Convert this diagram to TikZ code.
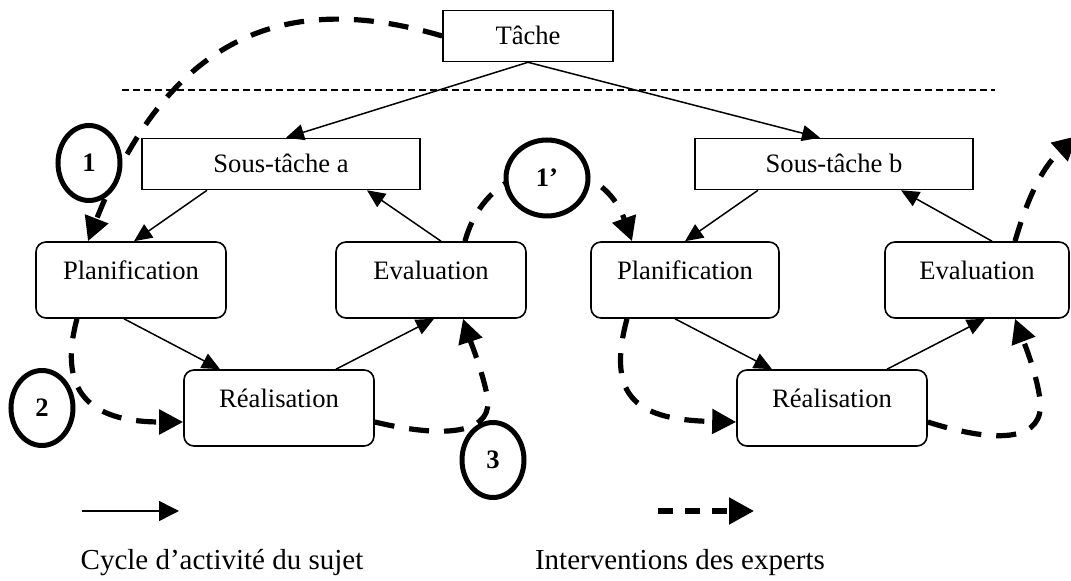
\documentclass[tikz,border=0pt]{standalone}
\usepackage{fontspec}
\setmainfont{Liberation Serif}
\usetikzlibrary{arrows.meta,calc,shapes.geometric}

\tikzset{
  task node/.style={draw,line width=0.8pt,minimum height=25.5pt,
    text height=8.8pt,text depth=0pt},
  phase node/.style={draw,rounded corners=5pt,line width=0.8pt,
    minimum width=95pt,minimum height=38pt,text height=9pt,text depth=9pt},
  num node/.style={draw,ellipse,fill=white,line width=2.5pt,inner sep=0pt,
    minimum width=31pt,minimum height=37.5pt,font=\fontsize{13.3}{16}\selectfont\bfseries},
  cycle arrow/.style={line width=0.75pt,-{Triangle[length=9pt,width=8pt]}},
  expert/.style={line width=2.6pt,dash pattern=on 10pt off 7.5pt,
    -{Triangle[length=12pt,width=12pt]}},
  sep line/.style={line width=0.7pt,dash pattern=on 3.5pt off 2pt}
}

\begin{document}
\begin{tikzpicture}[x=0.5pt,y=-0.5pt,font=\fontsize{13.3}{16}\selectfont]
\useasboundingbox (0,0) rectangle (1071,581);

% task and sub-tasks
\node[task node,minimum width=85pt] (tache) at (528,36) {Tâche};
\node[task node,minimum width=139pt] (sta) at (281,164) {Sous-tâche a};
\node[task node,minimum width=139pt] (stb) at (834,164) {Sous-tâche b};

\coordinate (sepL) at (122,90);
\coordinate (sepR) at (995,90);
\draw[sep line] (sepL) -- (sepR);

% the two activity cycles
\node[phase node] (plana) at (131,280) {Planification};
\node[phase node] (evala) at (431,280) {Evaluation};
\node[phase node] (reala) at (279,408) {Réalisation};
\node[phase node,minimum width=94pt] (planb) at (685,280) {Planification};
\node[phase node,minimum width=92pt] (evalb) at (977,280) {Evaluation};
\node[phase node] (realb) at (832,408) {Réalisation};

\path[every edge/.style={draw,cycle arrow}]
(tache.south) edge ($(sta.north)+(5,0)$)
              edge ($(stb.north)+(-14,0)$)
($(sta.south)+(-74,0)$) edge ($(plana.north)+(3,0)$)
($(evala.north)+(10,0)$) edge ($(sta.south)+(86,0)$)
($(plana.south)+(-7,0)$) edge ($(reala.north)+(-59,0)$)
($(reala.north)+(57,0)$) edge ($(evala.south)+(3,0)$)
($(stb.south)+(-76,0)$) edge (planb.north)
($(evalb.north)+(15,0)$) edge ($(stb.south)+(67,0)$)
($(planb.south)+(-10,0)$) edge ($(realb.north)+(-60,0)$)
($(realb.north)+(55,0)$) edge ($(evalb.south)+(8,0)$);

% expert interventions
\coordinate (exit) at (1077,136);
\draw[expert] (tache.west) .. controls (320,0) and (180,5) .. ($(plana.north)+(-43,0)$);
\draw[expert] ($(evala.north)+(34,0)$) .. controls (490,150) and (600,150) .. ($(planb.north)+(-53,0)$);
\draw[expert] ($(plana.south)+(-54,0)$) .. controls (55,400) and (100,422) .. ($(reala.west)+(0,14)$);
\draw[expert] ($(reala.east)+(0,14)$) .. controls (450,440) and (495,432) .. (487,395)
  .. controls (482,370) and (470,340) .. ($(evala.south)+(32,0)$);
\draw[expert] ($(planb.south)+(-58,0)$) .. controls (605,400) and (640,420) .. ($(realb.west)+(0,14)$);
\draw[expert] ($(realb.east)+(0,14)$) .. controls (1000,445) and (1045,440) .. (1040,400)
  .. controls (1037,375) and (1025,345) .. ($(evalb.south)+(38,0)$);
\draw[expert] ($(evalb.north)+(38,0)$) .. controls (1030,190) and (1045,165) .. (exit);

\node[num node] (c1) at (89,163) {1};
\node[num node,minimum width=41pt,minimum height=38pt] (c1b) at (547,178) {1’};
\node[num node] (c2) at (42,408) {2};
\node[num node] (c3) at (493,460) {3};

% legend
\coordinate (legA1) at (82,511);
\coordinate (legA2) at (179,511);
\coordinate (legB1) at (658,511);
\coordinate (legB2) at (754,511);
\draw[line width=0.75pt,-{Triangle[length=10pt,width=10pt]}] (legA1) -- (legA2);
\draw[expert,dash pattern=on 7.5pt off 6pt,-{Triangle[length=12.5pt,width=13pt]}] (legB1) -- (legB2);
\node[anchor=base,font=\fontsize{14.5}{17}\selectfont] (legAtxt) at (222,570) {Cycle d’activité du sujet};
\node[anchor=base,font=\fontsize{14.5}{17}\selectfont] (legBtxt) at (680,570) {Interventions des experts};
\end{tikzpicture}
\end{document}
